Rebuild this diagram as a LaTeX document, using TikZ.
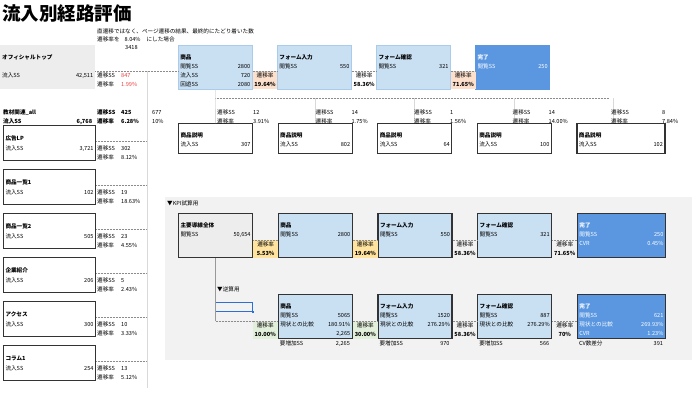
\documentclass[tikz,border=0pt]{standalone}
\usepackage{fontspec}
\setmainfont{Noto Sans CJK JP}
\usepackage{xcolor}
\usepackage{tikz}
\usetikzlibrary{positioning}

\definecolor{lblue}{HTML}{C9DFF2}
\definecolor{lbluedraw}{HTML}{A9CBEC}
\definecolor{dblue}{HTML}{5A97E0}
\definecolor{peach}{HTML}{FCE0CC}
\definecolor{gold}{HTML}{FFE39E}
\definecolor{mint}{HTML}{E2EFDA}
\definecolor{cellgray}{HTML}{EDEDED}
\definecolor{kpibg}{HTML}{F2F2F2}
\definecolor{gridgray}{HTML}{D9D9D9}
\definecolor{alertred}{HTML}{F03C3C}
\definecolor{selblue}{HTML}{2E6FD6}

\newcommand{\kv}[2]{\mbox{}#1\hfill #2}
\newcommand{\sspair}[3][24pt]{%
  \begin{tabular}[t]{@{}p{#1}@{}l@{}}遷移SS & #2\\ 遷移率 & #3\end{tabular}}
\newcommand{\twoline}[2]{\begin{tabular}[t]{@{}l@{}}#1\\ #2\end{tabular}}
\newcommand{\ratetext}[1]{\begin{tabular}[t]{@{}c@{}}遷移率\\ \textbf{#1}\end{tabular}}

\begin{document}
\begin{tikzpicture}[
    x=1pt, y=-1pt,
    font=\fontsize{5.6}{9}\selectfont,
    every node/.style={inner sep=0pt},
    flowbox/.style={
        anchor=north west, inner xsep=2pt, inner ysep=0pt,
        text width=70pt, text height=14pt, text depth=30pt, align=left
    },
    wide/.style={text width=84pt},
    topbox/.style={flowbox, fill=lblue, draw=lbluedraw, line width=0.6pt},
    kpibox/.style={flowbox, draw=black!80, line width=1.2pt},
    srcbox/.style={
        anchor=north west, draw=black!80, line width=1.1pt,
        inner xsep=2pt, text width=88pt, text height=15pt, text depth=20pt,
        align=left, font=\fontsize{5.6}{10}\selectfont
    },
    descbox/.style={
        anchor=north west, draw=black!80, line width=1.1pt,
        inner xsep=2pt, text width=70pt, text height=14pt, text depth=16pt,
        align=left
    },
    ratecell/.style={
        anchor=south west, minimum width=24.5pt,
        text height=6pt, text depth=12pt
    },
    incbox/.style={
        anchor=north west, inner xsep=2pt, text width=70pt,
        text height=6pt, text depth=2pt, align=left
    },
    dotline/.style={densely dotted, black!45, line width=0.5pt},
    gridline/.style={gridgray, line width=0.6pt},
]
\useasboundingbox (0,0) rectangle (700,400);
\fill[white] (0,0) rectangle (700,400);

% title and note
\node[anchor=base west, font=\fontsize{18.5}{20}\selectfont\bfseries] (title) at (2,20) {流入別経路評価};
\node[anchor=base west] (note1) at (97,33) {直遷移ではなく、ページ遷移の結果、最終的にたどり着いた数};
\node[anchor=base west] (note2) at (97,41) {遷移率を\hspace{5pt}8.04\%\hspace{6pt}にした場合};
\node[anchor=base west] (note3) at (125,49) {3418};

% official top -> funnel
\node[flowbox, fill=cellgray, text width=91pt] (ofc) at (0,45)
  {\textbf{オフィシャルトップ}\\[9pt]\kv{流入SS}{42,511}};
\node[anchor=base west] (ofcss) at (97,77)
  {\sspair{\textcolor{alertred}{847}}{\textcolor{alertred}{1.99\%}}};

\node[topbox] (tshohin) at (178,45)
  {\textbf{商品}\\\kv{閲覧SS}{2800}\\\kv{流入SS}{720}\\\kv{回遊SS}{2080}};
\node[topbox, right=24.5pt of tshohin] (tform) {\textbf{フォーム入力}\\\kv{閲覧SS}{550}};
\node[topbox, right=24.5pt of tform] (tconf) {\textbf{フォーム確認}\\\kv{閲覧SS}{321}};
\node[topbox, fill=dblue, draw=dblue, text=white, right=24.5pt of tconf] (tdone)
  {\textbf{完了}\\\kv{閲覧SS}{250}};

\node[ratecell, fill=peach] (tr1) at (tshohin.south east) {\ratetext{19.64\%}};
\node[ratecell] (tr2) at (tform.south east) {\ratetext{58.36\%}};
\node[ratecell, fill=peach] (tr3) at (tconf.south east) {\ratetext{71.65\%}};

\draw[dotline] (ofc.east |- tr1.north) -- (tshohin.west |- tr1.north);
\coordinate (colsplit) at (147,71);
\draw[gridline] (colsplit) -- ++(0,317);

% teaching material row
\node[anchor=base west, text width=89pt, font=\fontsize{5.6}{9}\selectfont\bfseries] (kyozai) at (3,114)
  {教材関連\_all\\\kv{流入SS}{6,768}};
\node[anchor=base west, font=\fontsize{5.6}{9}\selectfont\bfseries] (kyozaiss) at (97,114) {\sspair{425}{6.28\%}};
\node[anchor=base west] (kyozaitot) at (152,114) {\twoline{677}{10\%}};

\node[descbox] (d1) at (178,123) {\textbf{商品説明}\\\kv{流入SS}{307}};
\node[descbox, right=24.5pt of d1] (d2) {\textbf{商品説明}\\\kv{流入SS}{802}};
\node[descbox, right=24.5pt of d2] (d3) {\textbf{商品説明}\\\kv{流入SS}{64}};
\node[descbox, right=24.5pt of d3] (d4) {\textbf{商品説明}\\\kv{流入SS}{100}};
\node[descbox, wide, right=24.5pt of d4] (d5) {\textbf{商品説明}\\\kv{流入SS}{102}};

\coordinate (fork) at (215,98);
\draw[dotline] (fork) -- ++(394,0);
\draw[gridline] (tshohin.south) -- (d1.north);
\foreach \d in {d2,d3,d4}
  \draw[gridline] (\d.north) -- ++(0,-25);
\draw[gridline] ([xshift=37pt]d5.north west) -- ++(0,-25);

\foreach \n/\x/\w/\ss/\rt in {g1/217/36pt/12/3.91, g2/315.5/36pt/14/1.75,
    g3/414/36pt/1/1.56, g4/512.5/36pt/14/14.00, g5/611/51pt/8/7.84}
  \node[anchor=base west] (\n) at (\x,114) {\sspair[\w]{\ss}{\rt\%}};

% entry pages
\foreach \i/\name/\val/\ss/\rt in {0/広告LP/{3,721}/302/8.12, 1/商品一覧1/102/19/18.63,
    2/商品一覧2/505/23/4.55, 3/企業紹介/206/5/2.43, 4/アクセス/300/10/3.33,
    5/コラム1/254/13/5.12} {
  \node[srcbox] (src\i) at (3,{125+44*\i}) {\textbf{\name}\\\kv{流入SS}{\val}};
  \node[anchor=base west] (srcss\i) at (97,{150+44*\i}) {\sspair{\ss}{\rt\%}};
  \draw[dotline] ([yshift=-16pt]src\i.north east) -- ++(50,0);
}

% KPI block
\node[anchor=north west, fill=kpibg, minimum width=527pt, minimum height=163pt] (kpiarea) at (165,197) {};
\node[anchor=base west] (kpititle) at (167,205) {▼KPI試算用};

\node[kpibox, fill=cellgray] (kall) at (178,213) {\textbf{主要導線全体}\\\kv{閲覧SS}{50,654}};
\node[kpibox, fill=lblue, right=24.5pt of kall] (kshohin) {\textbf{商品}\\\kv{閲覧SS}{2800}};
\node[kpibox, fill=lblue, right=24.5pt of kshohin] (kform) {\textbf{フォーム入力}\\\kv{閲覧SS}{550}};
\node[kpibox, fill=lblue, right=24.5pt of kform] (kconf) {\textbf{フォーム確認}\\\kv{閲覧SS}{321}};
\node[kpibox, wide, fill=dblue, text=white, right=24.5pt of kconf] (kdone)
  {\textbf{完了}\\\kv{閲覧SS}{250}\\\kv{CVR}{0.45\%}};

\node[ratecell, fill=gold] (kr1) at (kall.south east) {\ratetext{5.53\%}};
\node[ratecell, fill=gold] (kr2) at (kshohin.south east) {\ratetext{19.64\%}};
\node[ratecell] (kr3) at (kform.south east) {\ratetext{58.36\%}};
\node[ratecell] (kr4) at (kconf.south east) {\ratetext{71.65\%}};

% reverse calculation
\node[anchor=base west] (revtitle) at (217,291) {▼逆算用};
\node[anchor=north west, draw=selblue, line width=0.8pt, minimum width=37pt, minimum height=9pt] (selcell) at (215,302) {};
\node[fill=selblue, minimum size=2.4pt] (selhandle) at (selcell.south east) {};

\node[kpibox, fill=lblue, anchor=north, below=36pt of kshohin] (rshohin)
  {\textbf{商品}\\\kv{閲覧SS}{5065}\\\kv{現状との比較}{180.91\%}\\\kv{}{2,265}};
\node[kpibox, fill=lblue, right=24.5pt of rshohin] (rform)
  {\textbf{フォーム入力}\\\kv{閲覧SS}{1520}\\\kv{現状との比較}{276.29\%}};
\node[kpibox, fill=lblue, right=24.5pt of rform] (rconf)
  {\textbf{フォーム確認}\\\kv{閲覧SS}{887}\\\kv{現状との比較}{276.29\%}};
\node[kpibox, wide, fill=dblue, text=white, right=24.5pt of rconf] (rdone)
  {\textbf{完了}\\\kv{閲覧SS}{621}\\\kv{現状との比較}{269.93\%}\\\kv{CVR}{1.23\%}};

\node[ratecell, anchor=south east, fill=mint] (rr1) at (rshohin.south west) {\ratetext{10.00\%}};
\node[ratecell, fill=mint] (rr2) at (rshohin.south east) {\ratetext{30.00\%}};
\node[ratecell] (rr3) at (rform.south east) {\ratetext{58.36\%}};
\node[ratecell] (rr4) at (rconf.south east) {\ratetext{70\%}};

\node[incbox] (rinc1) at (rshohin.south west) {\kv{要増加SS}{2,265}};
\node[incbox] (rinc2) at (rform.south west) {\kv{要増加SS}{970}};
\node[incbox] (rinc3) at (rconf.south west) {\kv{要増加SS}{566}};
\node[incbox, wide] (rinc4) at (rdone.south west) {\kv{CV数差分}{391}};

\draw[black!40, line width=0.5pt] (kall.south) -- (kall.south |- rr1.north);
\draw[dotline] (kall.south |- rr1.north) -- (rr1.north west);

\foreach \c in {tr1,tr2,tr3,kr1,kr2,kr3,kr4,rr1,rr2,rr3,rr4}
  \draw[dotline] (\c.north west) -- (\c.north east);

\end{tikzpicture}
\end{document}
